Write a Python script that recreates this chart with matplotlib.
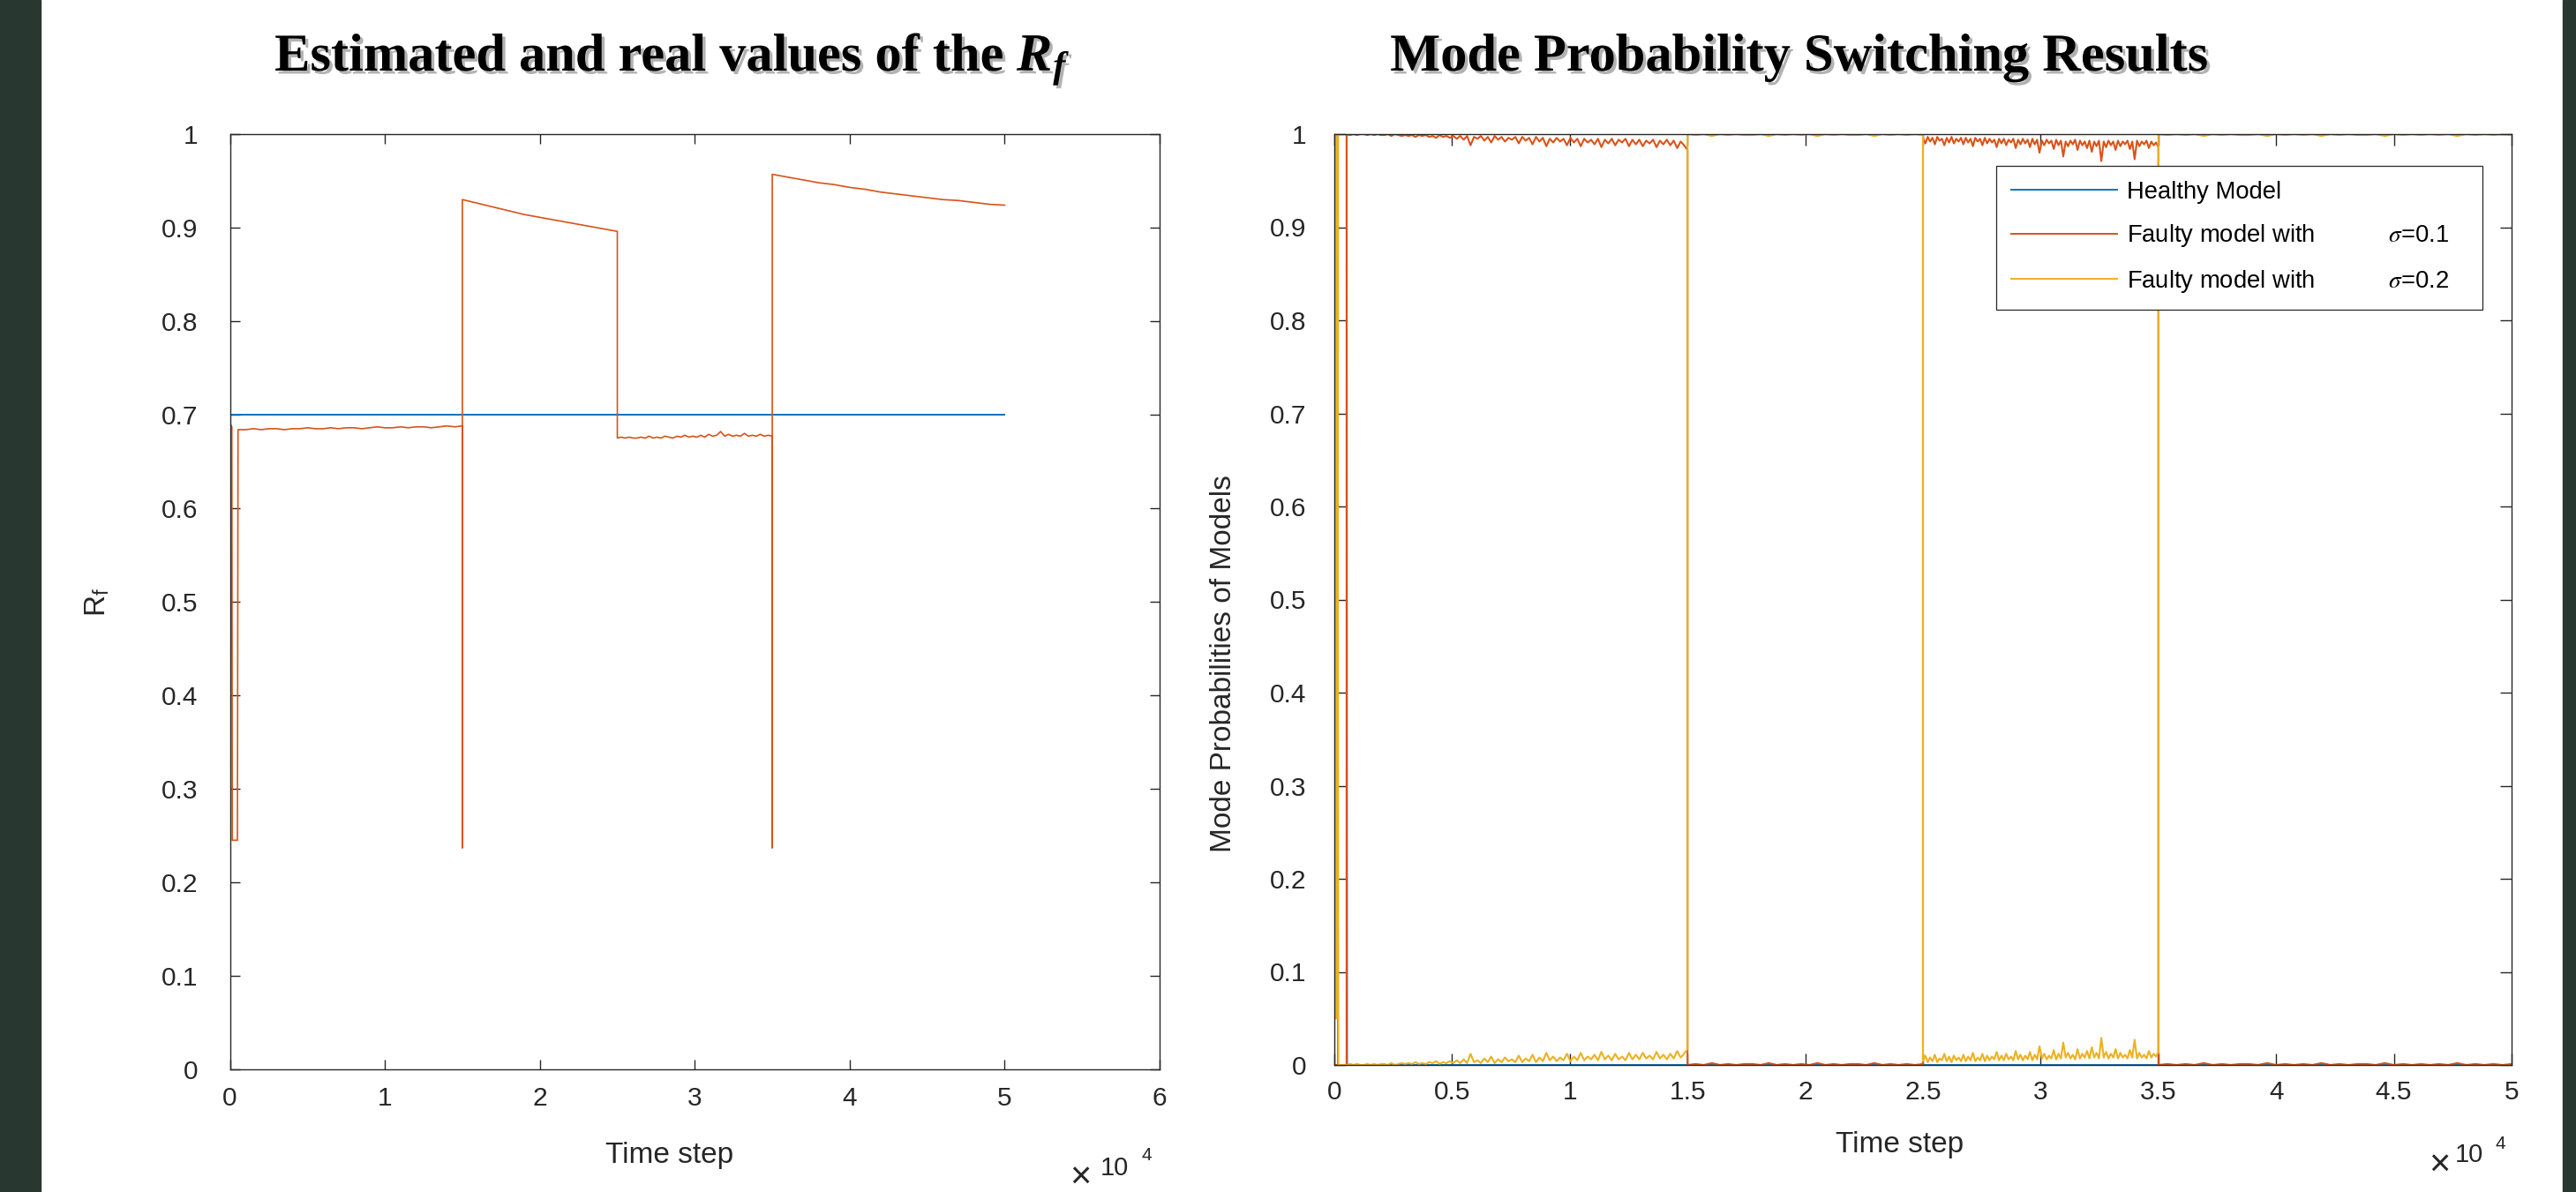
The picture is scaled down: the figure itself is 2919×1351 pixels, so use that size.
import numpy as np
import matplotlib
matplotlib.use('Agg')
import matplotlib.pyplot as plt
from matplotlib import patheffects
from matplotlib.patches import Rectangle

# 字体：坐标轴用 Arial 风格，标题用衬线粗体
plt.rcParams['font.family'] = ['Liberation Sans', 'DejaVu Sans']
plt.rcParams['mathtext.fontset'] = 'stix'

# ---------------- 数据 ----------------
# 左图：R_f 真实值
rf_real_t = [0, 50000]
rf_real = [0.7, 0.7]

# 左图：R_f 估计值，分段
rf_start_t = [0, 60, 120, 150, 480]
rf_start = [0.053, 0.689, 0.687, 0.245, 0.245]
rf_seg1 = [0.684, 0.684, 0.685, 0.684, 0.685, 0.685, 0.684, 0.685, 0.685, 0.686,
           0.685, 0.685, 0.686, 0.685, 0.686, 0.686, 0.685, 0.686, 0.687, 0.686,
           0.686, 0.687, 0.686, 0.687, 0.687, 0.686, 0.687, 0.688, 0.687, 0.688]
rf_dip1_t = [15000]
rf_dip1 = [0.237]
rf_seg2_t = [15000, 16000, 17000, 18000, 19000, 20000, 21000, 22000, 23000, 24000, 25000]
rf_seg2 = [0.930, 0.926, 0.922, 0.918, 0.914, 0.911, 0.908, 0.905, 0.902, 0.899, 0.896]
rf_seg3 = [0.675, 0.676, 0.675, 0.676, 0.675, 0.675, 0.676, 0.675, 0.677, 0.675,
           0.676, 0.675, 0.677, 0.676, 0.675, 0.677, 0.676, 0.678, 0.676, 0.677,
           0.676, 0.678, 0.676, 0.679, 0.677, 0.678, 0.682, 0.677, 0.679, 0.677,
           0.678, 0.677, 0.680, 0.677, 0.678, 0.677, 0.679, 0.677, 0.678, 0.677]
rf_dip2_t = [35000]
rf_dip2 = [0.237]
rf_seg4_t = [35000, 36000, 37000, 38000, 39000, 40000, 41000, 42000, 43000, 44000,
             45000, 46000, 47000, 48000, 49000, 50000]
rf_seg4 = [0.957, 0.954, 0.951, 0.948, 0.946, 0.943, 0.941, 0.938, 0.936, 0.934,
           0.932, 0.930, 0.929, 0.927, 0.925, 0.924]

# 右图：模式概率。噪声为低概率模型的概率值
healthy_t = [0, 150, 160, 530, 545, 50000]
healthy_p = [0, 0, 1, 1, 0, 0]
init_t = [0, 10, 60, 70, 120, 130, 170, 520]
yellow_init = [0, 1, 0.05, 1, 0.05, 1, 0, 0]
orange_init = [0, 0, 0, 0, 0, 0, 0, 0]

noise_a = [0.000, 0.001, 0.000, 0.001, 0.000, 0.000, 0.001, 0.000, 0.001, 0.000,
           0.001, 0.001, 0.000, 0.002, 0.000, 0.001, 0.002,
           0.001, 0.002, 0.001, 0.003, 0.001, 0.002, 0.001, 0.003, 0.002, 0.004,
           0.001, 0.003, 0.002, 0.004, 0.002, 0.005, 0.002,
           0.006, 0.002, 0.012, 0.003, 0.005, 0.002, 0.007, 0.003, 0.009, 0.002,
           0.006, 0.003, 0.008, 0.004, 0.006, 0.003, 0.010,
           0.003, 0.007, 0.004, 0.011, 0.003, 0.008, 0.004, 0.013, 0.005, 0.009,
           0.004, 0.008, 0.005, 0.012, 0.004, 0.009, 0.005,
           0.013, 0.005, 0.009, 0.006, 0.011, 0.005, 0.014, 0.006, 0.010, 0.005,
           0.012, 0.006, 0.009, 0.005, 0.013, 0.006, 0.011,
           0.006, 0.013, 0.007, 0.010, 0.006, 0.014, 0.007, 0.011, 0.006, 0.012,
           0.007, 0.015, 0.008, 0.012, 0.017]
noise_b = [0.000, 0.001, 0.000, 0.002, 0.000, 0.001, 0.000, 0.001, 0.001, 0.000,
           0.002, 0.000, 0.001, 0.000, 0.001, 0.000, 0.002, 0.000, 0.001, 0.000,
           0.001, 0.001, 0.000, 0.002, 0.000, 0.001, 0.000, 0.001, 0.000, 0.001]
noise_c = [0.004, 0.010, 0.003, 0.008, 0.004, 0.011, 0.003, 0.007, 0.005, 0.012,
           0.004, 0.009, 0.003, 0.010, 0.005, 0.008, 0.004,
           0.011, 0.004, 0.009, 0.005, 0.013, 0.004, 0.008, 0.005, 0.012, 0.004,
           0.010, 0.005, 0.009, 0.006, 0.014, 0.005, 0.010,
           0.005, 0.012, 0.006, 0.009, 0.005, 0.015, 0.006, 0.011, 0.005, 0.010,
           0.006, 0.014, 0.005, 0.011, 0.006, 0.020, 0.007,
           0.012, 0.006, 0.010, 0.007, 0.016, 0.006, 0.012, 0.007, 0.024, 0.008,
           0.013, 0.007, 0.011, 0.006, 0.017, 0.007, 0.012,
           0.008, 0.015, 0.007, 0.019, 0.008, 0.013, 0.007, 0.029, 0.008, 0.014,
           0.007, 0.012, 0.008, 0.017, 0.007, 0.013, 0.008,
           0.011, 0.007, 0.016, 0.008, 0.027, 0.007, 0.013, 0.008, 0.011, 0.007,
           0.015, 0.008, 0.012, 0.009, 0.014]
noise_d = [0.000, 0.001, 0.000, 0.001, 0.000, 0.002, 0.000, 0.001, 0.000, 0.001,
           0.001, 0.000, 0.002, 0.000, 0.001, 0.000, 0.001, 0.000, 0.002, 0.000,
           0.001, 0.000, 0.001, 0.001, 0.000, 0.002, 0.000, 0.001, 0.000, 0.001,
           0.000, 0.001, 0.000, 0.002, 0.000, 0.001, 0.000, 0.001, 0.000, 0.001]

left_xticks = [0, 10000, 20000, 30000, 40000, 50000, 60000]
left_xticklabels = ['0', '1', '2', '3', '4', '5', '6']
right_xticks = [0, 5000, 10000, 15000, 20000, 25000, 30000, 35000, 40000, 45000, 50000]
right_xticklabels = ['0', '0.5', '1', '1.5', '2', '2.5', '3', '3.5', '4', '4.5', '5']
yticks = [0, 0.1, 0.2, 0.3, 0.4, 0.5, 0.6, 0.7, 0.8, 0.9, 1]
yticklabels = ['0', '0.1', '0.2', '0.3', '0.4', '0.5', '0.6', '0.7', '0.8', '0.9', '1']
legend_labels = ['Healthy Model',
                 'Faulty model with           $\\sigma$=0.1',
                 'Faulty model with           $\\sigma$=0.2']

# MATLAB 默认配色
c_blue, c_orange, c_yellow = '#0072BD', '#D95319', '#EDB120'
ink = '#262626'

# ---------------- 拼接序列 ----------------
t1 = np.linspace(520, 15000, len(rf_seg1))
t3 = np.linspace(25000, 35000, len(rf_seg3))
rf_est_t = np.concatenate([rf_start_t, t1, rf_dip1_t, rf_seg2_t, t3, rf_dip2_t, rf_seg4_t])
rf_est = np.concatenate([rf_start, rf_seg1, rf_dip1, rf_seg2, rf_seg3, rf_dip2, rf_seg4])

ta = np.linspace(520, 15000, len(noise_a))
tb = np.linspace(15000, 25000, len(noise_b))
tc = np.linspace(25000, 35000, len(noise_c))
td = np.linspace(35000, 50000, len(noise_d))
na, nb, nc, nd = map(np.array, (noise_a, noise_b, noise_c, noise_d))
mode_t = np.concatenate([init_t, ta, tb, tc, td])
p_orange = np.concatenate([orange_init, 1 - na, nb, 1 - nc, nd])
p_yellow = np.concatenate([yellow_init, na, 1 - nb, nc, 1 - nd])

# ---------------- 画布 ----------------
W, H = 2919, 1351
fig = plt.figure(figsize=(W / 100, H / 100), dpi=100)


def fx(px):
    return px / W


def fy(py):
    return 1 - py / H


# 两侧深绿色边条
fig.patches.append(Rectangle((0, 0), fx(46), 1, transform=fig.transFigure,
                             color='#28372f', zorder=0))
fig.patches.append(Rectangle((fx(2904), 0), 1 - fx(2904), 1, transform=fig.transFigure,
                             color='#28372f', zorder=0))

ax1 = fig.add_axes([fx(260.6), fy(1212), (1314 - 260.6) / W, (1212 - 152) / H])
ax2 = fig.add_axes([fx(1512), fy(1207), (2846 - 1512) / W, (1207 - 152) / H])


def matlab_style(ax, ticklen, ypad, xpad):
    for s in ax.spines.values():
        s.set_color(ink)
        s.set_linewidth(1.0)
    ax.tick_params(direction='in', top=True, right=True, length=ticklen, width=1.0,
                   color=ink, labelsize=21.5, labelcolor=ink)
    ax.tick_params(axis='y', pad=ypad)
    ax.tick_params(axis='x', pad=xpad)
    ax.set_yticks(yticks)
    ax.set_yticklabels(yticklabels)
    ax.set_ylim(0, 1)


# 左图
ax1.plot(rf_real_t, rf_real, color=c_blue, lw=1.4)
ax1.plot(rf_est_t, rf_est, color=c_orange, lw=1.2)
ax1.set_xlim(0, 60000)
ax1.set_xticks(left_xticks)
ax1.set_xticklabels(left_xticklabels)
matlab_style(ax1, 7.6, 26, 13.5)
ax1.set_xlabel('Time step', fontsize=24, color=ink)
ax1.xaxis.set_label_coords(0.473, -0.077)
ax1.set_ylabel('R$_\\mathregular{f}$', fontsize=24, color=ink)
ax1.yaxis.set_label_coords(-0.127, 0.5)

# 右图
l1, = ax2.plot(healthy_t, healthy_p, color=c_blue, lw=1.3)
l2, = ax2.plot(mode_t, p_orange, color=c_orange, lw=1.5)
l3, = ax2.plot(mode_t, p_yellow, color=c_yellow, lw=1.5)
ax2.set_xlim(0, 50000)
ax2.set_xticks(right_xticks)
ax2.set_xticklabels(right_xticklabels)
matlab_style(ax2, 9.6, 23, 12.5)
ax2.set_xlabel('Time step', fontsize=24, color=ink)
ax2.xaxis.set_label_coords(0.4805, -0.071)
ax2.set_ylabel('Mode Probabilities of Models', fontsize=24, color=ink)
ax2.yaxis.set_label_coords(-0.0825, 0.431)

leg = ax2.legend([l1, l2, l3], legend_labels, loc='upper left',
                 bbox_to_anchor=(fx(2262), fy(351), (2813 - 2262) / W, (351 - 188) / H),
                 bbox_transform=fig.transFigure, mode='expand', borderaxespad=0,
                 fontsize=19.7, handlelength=4.4, handletextpad=0.4, borderpad=0.62,
                 labelspacing=0.78, fancybox=False, framealpha=1)
leg.get_frame().set_edgecolor(ink)
leg.get_frame().set_linewidth(0.9)
for h in leg.legend_handles:
    h.set_linewidth(1.4)

# x10^4 指数标记
for (xx, yx, x10, y10, x4, y4) in [(1224, 1336, 1247, 1332, 1294, 1315),
                                   (2764, 1322, 2782, 1317, 2827, 1302)]:
    fig.text(fx(xx), fy(yx), '×', fontsize=30, color=ink, ha='center', va='center')
    fig.text(fx(x10), fy(y10), '10', fontsize=21, color=ink, ha='left', va='baseline')
    fig.text(fx(x4), fy(y4), '4', fontsize=15, color=ink, ha='left', va='baseline')

# 标题（带阴影的衬线粗体）
shadow = [patheffects.withSimplePatchShadow(offset=(2.5, -2.5), shadow_rgbFace='#666666',
                                            alpha=0.5)]
title_kw = dict(fontsize=43.5, fontweight='bold', family='Liberation Serif',
                color='black', va='baseline', path_effects=shadow)
fig.text(fx(1138), fy(80), 'Estimated and real values of the', ha='right', **title_kw)
fig.text(fx(1152), fy(80), '$\\mathregular{R}_\\mathregular{f}$', ha='left',
         fontstyle='italic', **title_kw)
fig.text(fx(2039), fy(80), 'Mode Probability Switching Results', ha='center', **title_kw)

fig.savefig('out.png', dpi=100)
